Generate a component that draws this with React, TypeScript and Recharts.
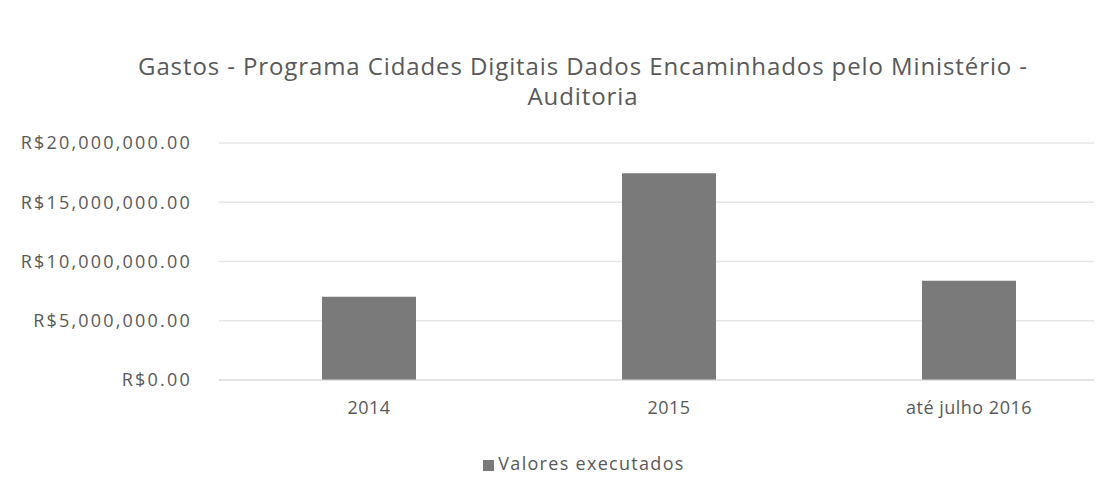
import React from "react";
import { BarChart, Bar, XAxis, YAxis, CartesianGrid, Legend } from "recharts";

const categories = ["2014", "2015", "até julho 2016"];
const valoresExecutados = [7030000, 17440000, 8380000];
const yTicks = [0, 5000000, 10000000, 15000000, 20000000];
const seriesName = "Valores executados";
const titleLines = [
  "Gastos - Programa Cidades Digitais Dados Encaminhados pelo Ministério -",
  "Auditoria",
];

const data = categories.map((c, i) => ({ name: c, value: valoresExecutados[i] }));

const FONT = "'Open Sans', sans-serif";
const TEXT = "#595959";

const fmt = (v: number) =>
  "R$" +
  v.toLocaleString("en-US", { minimumFractionDigits: 2, maximumFractionDigits: 2 });

export default function App() {
  return (
    <div
      style={{
        margin: -8,
        position: "relative",
        width: 1102,
        height: 501,
        overflow: "hidden",
        background: "#ffffff",
        fontFamily: FONT,
      }}
    >
      <div
        style={{
          position: "absolute",
          left: 0,
          top: 51,
          width: 1166,
          textAlign: "center",
          color: TEXT,
          fontSize: 24,
          lineHeight: "30px",
          letterSpacing: 0.9,
          zIndex: 2,
        }}
      >
        {titleLines.map((t) => (
          <div key={t}>{t}</div>
        ))}
      </div>
      <BarChart
        width={1102}
        height={501}
        data={data}
        margin={{ top: 143, right: -17, left: 19, bottom: 91 }}
      >
        <CartesianGrid vertical={false} stroke="#e6e6e6" strokeWidth={1.5} />
        <XAxis
          dataKey="name"
          height={30}
          tickSize={0}
          tickMargin={21}
          axisLine={{ stroke: "#d9d9d9" }}
          tick={{ fill: TEXT, fontSize: 18, fontFamily: FONT, letterSpacing: 0.5 }}
        />
        <YAxis
          width={200}
          domain={[0, 20000000]}
          ticks={yTicks}
          tickFormatter={fmt}
          tickSize={0}
          tickMargin={27}
          axisLine={false}
          tick={{ fill: TEXT, fontSize: 18, fontFamily: FONT, letterSpacing: 2.2 }}
        />
        <Bar
          dataKey="value"
          name={seriesName}
          fill="#7a7a7a"
          barSize={94}
          isAnimationActive={false}
        />
        <Legend
          verticalAlign="middle"
          layout="horizontal"
          align="center"
          iconType="square"
          iconSize={11}
          wrapperStyle={{ top: 451, left: 6, width: 1166 }}
          formatter={(v: string) => (
            <span style={{ color: TEXT, fontSize: 18, fontFamily: FONT, letterSpacing: 1.3 }}>{v}</span>
          )}
        />
      </BarChart>
    </div>
  );
}
